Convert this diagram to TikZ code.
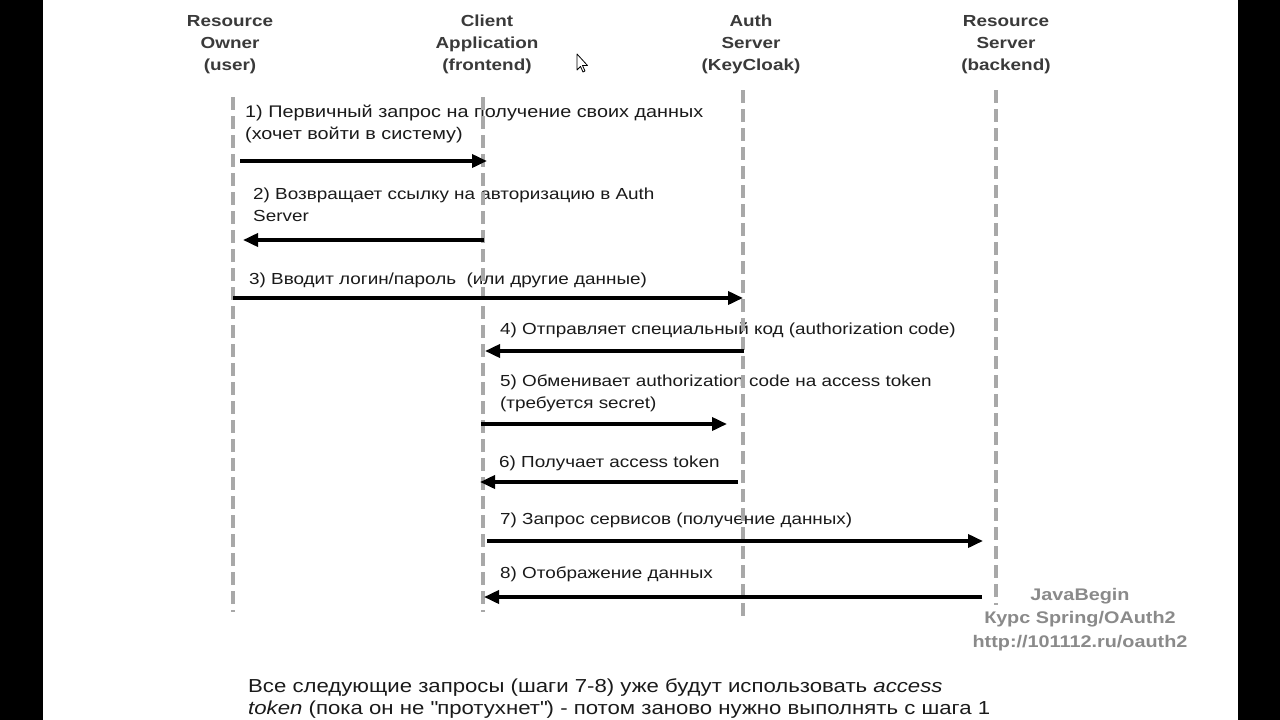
\documentclass[tikz,border=0pt]{standalone}
\usepackage{fontspec}
\setmainfont[FakeStretch=1.18]{Liberation Sans}
\usetikzlibrary{arrows.meta}
\definecolor{hdr}{HTML}{3A3A3A}
\definecolor{life}{HTML}{A8A8A8}
\definecolor{txt}{HTML}{1A1A1A}
\definecolor{wm}{HTML}{8A8A8A}
\tikzset{
  hdrtext/.style={font=\fontsize{16}{22}\selectfont\bfseries, text=hdr, align=center, inner sep=0pt},
  lifeline/.style={draw=life, line width=4pt, dash pattern=on 13pt off 6pt},
  msg/.style={draw=black, line width=3.6pt, -{Triangle[length=15pt,width=13pt]}, shorten >=-2pt},
  lbl/.style={font=\fontsize{16}{22}\selectfont, text=txt, anchor=base west, inner sep=0pt},
  lblbig/.style={lbl, font=\fontsize{16.8}{22}\selectfont},
  wmtext/.style={font=\fontsize{16.8}{22}\selectfont\bfseries, text=wm, anchor=base, inner sep=0pt},
  note/.style={font=\fontsize{18.8}{22}\selectfont, text=txt, anchor=base west, inner sep=0pt},
}
\begin{document}
\begin{tikzpicture}[x=1pt,y=-1pt]
\useasboundingbox (0,0) rectangle (1280,720);
\fill[white] (0,0) rectangle (1280,720);
\fill[black] (0,0) rectangle (43,720);
\fill[black] (1238,0) rectangle (1280,720);

% headers
\node[hdrtext, anchor=base] (hro) at (230,26) {Resource};
\node[hdrtext, anchor=base] (hro2) at (230,48) {Owner};
\node[hdrtext, anchor=base] (hro3) at (230,70) {(user)};
\node[hdrtext, anchor=base] (hca) at (487,26) {Client};
\node[hdrtext, anchor=base] (hca2) at (487,48) {Application};
\node[hdrtext, anchor=base] (hca3) at (487,70) {(frontend)};
\node[hdrtext, anchor=base] (has) at (751,26) {Auth};
\node[hdrtext, anchor=base] (has2) at (751,48) {Server};
\node[hdrtext, anchor=base] (has3) at (751,70) {(KeyCloak)};
\node[hdrtext, anchor=base] (hrs) at (1006,26) {Resource};
\node[hdrtext, anchor=base] (hrs2) at (1006,48) {Server};
\node[hdrtext, anchor=base] (hrs3) at (1006,70) {(backend)};

% cursor
\draw[black, line width=0.8pt, fill=white, line join=round] (577,54) -- (577,70) -- (580.5,66.5) -- (583,72) -- (585,71) -- (582.5,65.5) -- (587.5,65.5) -- cycle;

% labels
\node[lblbig] (l1a) at (245,117) {1) Первичный запрос на получение своих данных};
\node[lblbig] (l1b) at (245,139) {(хочет войти в систему)};
\node[lbl] (l2a) at (253,199) {2) Возвращает ссылку на авторизацию в Auth};
\node[lbl] (l2b) at (253,221) {Server};
\node[lbl] (l3) at (249,284) {3) Вводит логин/пароль\ \ (или другие данные)};
\node[lbl] (l4) at (500,334) {4) Отправляет специальный код (authorization code)};
\node[lbl] (l5a) at (500,386) {5) Обменивает authorization code на access token};
\node[lbl] (l5b) at (500,408) {(требуется secret)};
\node[lbl] (l6) at (499,467) {6) Получает access token};
\node[lbl] (l7) at (500,524) {7) Запрос сервисов (получение данных)};
\node[lbl] (l8) at (500,578) {8) Отображение данных};

% lifelines
\coordinate (ro0) at (233,97);  \coordinate (ro1) at (233,612);
\coordinate (ca0) at (483,97);  \coordinate (ca1) at (483,612);
\coordinate (as0) at (743,90);  \coordinate (as1) at (743,617);
\coordinate (rs0) at (996,90);  \coordinate (rs1) at (996,605);
\draw[lifeline] (ro0) -- (ro1);
\draw[lifeline] (ca0) -- (ca1);
\draw[lifeline] (as0) -- (as1);
\draw[lifeline] (rs0) -- (rs1);

% message endpoints
\coordinate (m1s) at (240,161); \coordinate (m1e) at (485,161);
\coordinate (m2s) at (484,240); \coordinate (m2e) at (245,240);
\coordinate (m3s) at (233,298); \coordinate (m3e) at (741,298);
\coordinate (m4s) at (744,351); \coordinate (m4e) at (487,351);
\coordinate (m5s) at (481,424); \coordinate (m5e) at (725,424);
\coordinate (m6s) at (738,482); \coordinate (m6e) at (482,482);
\coordinate (m7s) at (487,541); \coordinate (m7e) at (981,541);
\coordinate (m8s) at (982,597); \coordinate (m8e) at (486,597);
\draw[msg] (m1s) -- (m1e);
\draw[msg] (m2s) -- (m2e);
\draw[msg] (m3s) -- (m3e);
\draw[msg] (m4s) -- (m4e);
\draw[msg] (m5s) -- (m5e);
\draw[msg] (m6s) -- (m6e);
\draw[msg] (m7s) -- (m7e);
\draw[msg] (m8s) -- (m8e);

% watermark
\node[wmtext] (w1) at (1080,600) {JavaBegin};
\node[wmtext] (w2) at (1080,623) {Курс Spring/OAuth2};
\node[wmtext] (w3) at (1080,647) {http://101112.ru/oauth2};

% note
\node[note] (n1) at (248,692) {Все следующие запросы (шаги 7-8) уже будут использовать \textit{access}};
\node[note] (n2) at (248,714) {\textit{token} (пока он не \textquotedbl протухнет\textquotedbl) - потом заново нужно выполнять с шага 1};
\end{tikzpicture}
\end{document}
